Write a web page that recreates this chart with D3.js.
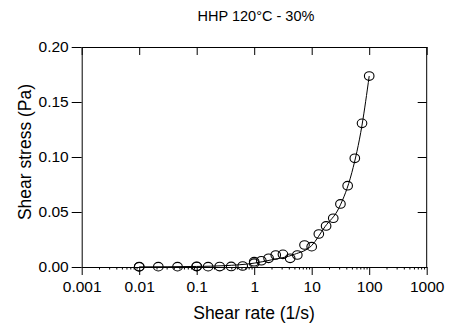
<!DOCTYPE html>
<html><head><meta charset="utf-8">
<script src="https://cdn.jsdelivr.net/npm/d3@7"></script>
<style>body{margin:0;background:#fff}svg{display:block}text{font-family:"Liberation Sans",Arial,sans-serif;fill:#000}</style>
</head><body>
<script>
const title = "HHP 120°C - 30%";
const xLabel = "Shear rate (1/s)";
const yLabel = "Shear stress (Pa)";
const xTicks = [0.001, 0.01, 0.1, 1, 10, 100, 1000];
const xTickLabels = ["0.001", "0.01", "0.1", "1", "10", "100", "1000"];
const yTicks = [0, 0.05, 0.10, 0.15, 0.20];
const yTickLabels = ["0.00", "0.05", "0.10", "0.15", "0.20"];
// measured points
const shearRate = [0.01, 0.01, 0.0215, 0.0464, 0.1, 0.1, 0.158, 0.251, 0.398, 0.631, 1, 1, 1.33, 1.78, 2.37, 3.16, 4.22, 5.62, 7.5, 10, 13.3, 17.8, 23.7, 31.6, 42.2, 56.2, 75, 100];
const shearStress = [0.0002, 0.0003, 0.0003, 0.0003, 0.0004, 0.0006, 0.0003, 0.0004, 0.0005, 0.0009, 0.0035, 0.0048, 0.0057, 0.0079, 0.0109, 0.0115, 0.0079, 0.0109, 0.020, 0.0185, 0.030, 0.0373, 0.0443, 0.0573, 0.0739, 0.0988, 0.1306, 0.1736];
// fitted line
const fitRate = [0.01, 0.1, 0.3, 1, 2, 5, 10, 17, 30, 50, 75, 100];
const fitStress = [0.0001, 0.0005, 0.0012, 0.0035, 0.0065, 0.0115, 0.0195, 0.0366, 0.054, 0.086, 0.129, 0.1736];

const W = 449, H = 326;
const L = 81.7, R = 426.7, T = 47, B = 267;
const svg = d3.select("body").append("svg").attr("width", W).attr("height", H);
svg.append("rect").attr("width", W).attr("height", H).attr("fill", "#fff");

const x = d3.scaleLog().domain([0.001, 1000]).range([L, R]);
const y = d3.scaleLinear().domain([0, 0.2]).range([B, T]);

const fmtX = v => xTickLabels[xTicks.indexOf(v)];
const fmtY = v => yTickLabels[yTicks.indexOf(v)];
const minor = [];
for (let e = -3; e < 3; e++) for (let m = 2; m <= 9; m++) minor.push(m * Math.pow(10, e));

const ax = g => g.selectAll("path.domain").attr("stroke", "#000").attr("stroke-width", 1);

// bottom minor ticks
svg.append("g").attr("transform", `translate(0,${B})`)
  .call(d3.axisBottom(x).tickValues(minor).tickSize(2.5).tickFormat("").tickSizeOuter(0))
  .call(g => g.select(".domain").remove())
  .call(g => g.selectAll("line").attr("stroke", "#000"));
// bottom axis
svg.append("g").attr("transform", `translate(0,${B})`)
  .call(d3.axisBottom(x).tickValues(xTicks).tickFormat(fmtX).tickSize(8).tickSizeOuter(0).tickPadding(6))
  .call(ax)
  .call(g => g.selectAll("line").attr("stroke", "#000"))
  .call(g => g.selectAll("text").attr("font-size", "15.5px").attr("font-family", "Liberation Sans, Arial, sans-serif"));
// top axis
svg.append("g").attr("transform", `translate(0,${T})`)
  .call(d3.axisBottom(x).tickValues(xTicks).tickFormat("").tickSize(8).tickSizeOuter(0))
  .call(ax).call(g => g.selectAll("line").attr("stroke", "#000"));
// left axis
svg.append("g").attr("transform", `translate(${L},0)`)
  .call(d3.axisLeft(y).tickValues(yTicks).tickFormat(fmtY).tickSize(10).tickSizeOuter(0).tickPadding(3))
  .call(ax)
  .call(g => g.selectAll("line").attr("stroke", "#000"))
  .call(g => g.selectAll("text").attr("font-size", "15.5px").attr("font-family", "Liberation Sans, Arial, sans-serif"));
// right axis
svg.append("g").attr("transform", `translate(${R},0)`)
  .call(d3.axisLeft(y).tickValues(yTicks.slice(1, 4)).tickFormat("").tickSize(9).tickSizeOuter(0))
  .call(g => g.select(".domain").remove())
  .call(g => g.selectAll("line").attr("stroke", "#000"));
svg.append("line").attr("x1", R).attr("x2", R).attr("y1", y(0.2)).attr("y2", y(0)).attr("stroke", "#000");

// fitted line
const line = d3.line().x((d, i) => x(fitRate[i])).y((d, i) => y(fitStress[i])).curve(d3.curveMonotoneX);
svg.append("path").attr("d", line(fitRate)).attr("fill", "none").attr("stroke", "#000").attr("stroke-width", 1);

// points
svg.append("g").selectAll("ellipse").data(shearRate).join("ellipse")
  .attr("cx", (d) => x(d)).attr("cy", (d, i) => y(shearStress[i]))
  .attr("rx", 4.8).attr("ry", 4.3)
  .attr("fill", "none").attr("stroke", "#000").attr("stroke-width", 1.1);

// texts
svg.append("text").attr("x", 256).attr("y", 21).attr("text-anchor", "middle").attr("font-size", "14.5px").text(title);
svg.append("text").attr("x", 254).attr("y", 319).attr("text-anchor", "middle").attr("font-size", "17.5px").text(xLabel);
svg.append("text").attr("transform", "translate(31,152) rotate(-90)").attr("text-anchor", "middle").attr("font-size", "17.5px").text(yLabel);
</script>
</body></html>
